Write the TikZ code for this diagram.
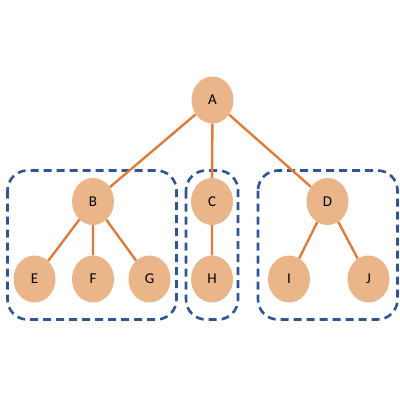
\documentclass[tikz,border=0pt]{standalone}
\usepackage{fontspec}
\setmainfont{Carlito}
\usetikzlibrary{shapes.geometric}
\definecolor{nodefill}{HTML}{EBB58A}
\definecolor{edgec}{HTML}{E07B39}
\definecolor{boxc}{HTML}{2F5597}
\tikzset{
  tnode/.style={ellipse, fill=nodefill, minimum width=42pt, minimum height=47pt, inner sep=0pt, font=\fontsize{15}{17}\selectfont},
  tedge/.style={draw=edgec, line width=2.4pt},
  grp/.style={draw=boxc, line width=2.6pt, dash pattern=on 8pt off 5pt, rounded corners=20pt}
}
\begin{document}
\begin{tikzpicture}[x=1pt,y=-1pt]
\useasboundingbox (0,0) rectangle (400,400);
\draw[grp] (7.5,170.5) rectangle (176.5,319.5);
\draw[grp] (186,170.5) rectangle (238,319.5);
\draw[grp] (258,170.5) rectangle (397.5,319.5);
\node[tnode] (A) at (212.5,100) {A};
\node[tnode] (B) at (93,201.5) {B};
\node[tnode] (C) at (212,201.5) {C};
\node[tnode] (D) at (327.5,201.5) {D};
\node[tnode] (E) at (34.5,279) {E};
\node[tnode] (F) at (93,279) {F};
\node[tnode] (G) at (149.5,279) {G};
\node[tnode] (H) at (212,279) {H};
\node[tnode] (I) at (289,279) {I};
\node[tnode] (J) at (368.5,279) {J};
\path[tedge] (A) -- (B) (A) -- (C) (A) -- (D)
  (B) -- (E) (B) -- (F) (B) -- (G)
  (C) -- (H) (D) -- (I) (D) -- (J);
\end{tikzpicture}
\end{document}
